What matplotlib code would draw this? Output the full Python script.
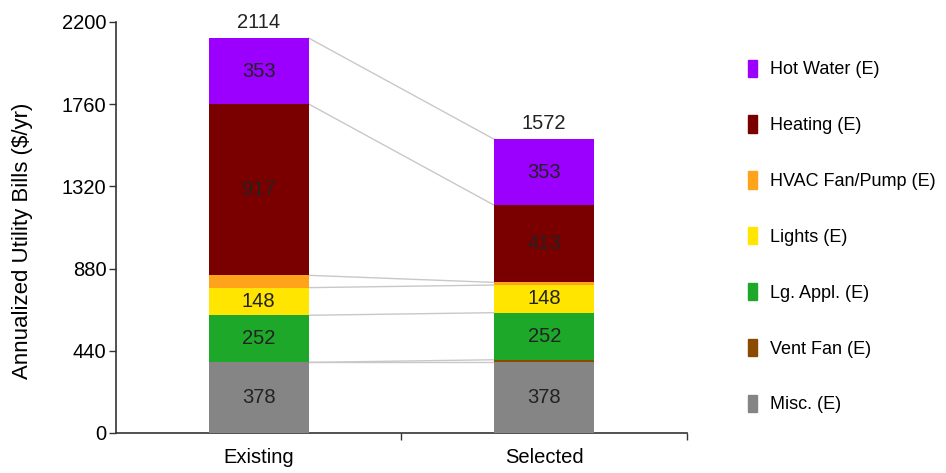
import matplotlib.pyplot as plt
from matplotlib.patches import Patch

plt.rcParams['font.family'] = ['Liberation Sans', 'DejaVu Sans']

# Data (bottom to top)
categories = ["Existing", "Selected"]
end_uses = ["Misc. (E)", "Vent Fan (E)", "Lg. Appl. (E)", "Lights (E)",
            "HVAC Fan/Pump (E)", "Heating (E)", "Hot Water (E)"]
existing = [378, 0, 252, 148, 66, 917, 353]
selected = [378, 14, 252, 148, 14, 413, 353]
totals = [2114, 1572]
colors = ["#858585", "#8a4a00", "#1ea82a", "#ffe500",
          "#ffa31a", "#7a0000", "#9b00ff"]
show_label = [True, False, True, True, False, True, True]

fig = plt.figure(figsize=(9.46, 4.73), dpi=100)
ax = fig.add_axes([0.1226, 0.0846, 0.6036, 0.8689])

fs = 14.5
width = 0.35
x = [0, 1]
series = [existing, selected]
tops = [[], []]
for j, vals in enumerate(series):
    bottom = 0
    for i, v in enumerate(vals):
        ax.bar(x[j], v, width, bottom=bottom, color=colors[i], linewidth=0, zorder=3)
        if show_label[i] and v > 60:
            ax.text(x[j], bottom + v / 2, str(v), ha='center', va='center',
                    fontsize=fs, color='#222222', zorder=4)
        bottom += v
        tops[j].append(bottom)
    ax.text(x[j], bottom + 35, str(totals[j]), ha='center', va='bottom',
            fontsize=fs, color='#222222')

# connector lines between bars
for a, b in zip(tops[0], tops[1]):
    ax.plot([x[0] + width / 2, x[1] - width / 2], [a, b], color='#c8c8c8',
            lw=1, zorder=2)

ax.set_xlim(-0.5, 1.5)
ax.set_ylim(0, 2200)
ax.set_yticks([0, 440, 880, 1320, 1760, 2200])
ax.set_xticks(x)
ax.set_xticklabels(categories)
ax.set_xticks([0.5, 1.5], minor=True)
ax.tick_params(axis='x', which='major', length=0, labelsize=fs, pad=11)
ax.tick_params(axis='x', which='minor', length=5, width=1, color='#333333')
ax.tick_params(axis='y', length=5, width=1, color='#333333', labelsize=fs, pad=2)
for s in ['top', 'right']:
    ax.spines[s].set_visible(False)
for s in ['left', 'bottom']:
    ax.spines[s].set_color('#333333')
    ax.spines[s].set_linewidth(1.2)
ax.set_ylabel("Annualized Utility Bills ($/yr)", fontsize=16)
ax.yaxis.set_label_coords(-0.145, 0.467)

handles = [Patch(color=c, label=l) for c, l in zip(colors, end_uses)][::-1]
fig.legend(handles=handles, loc='upper left', bbox_to_anchor=(0.7816, 0.893),
           frameon=False, fontsize=13, handlelength=0.5, handleheight=1.1,
           handletextpad=0.7, labelspacing=2.05, borderpad=0)

fig.savefig("out.png", dpi=100)
